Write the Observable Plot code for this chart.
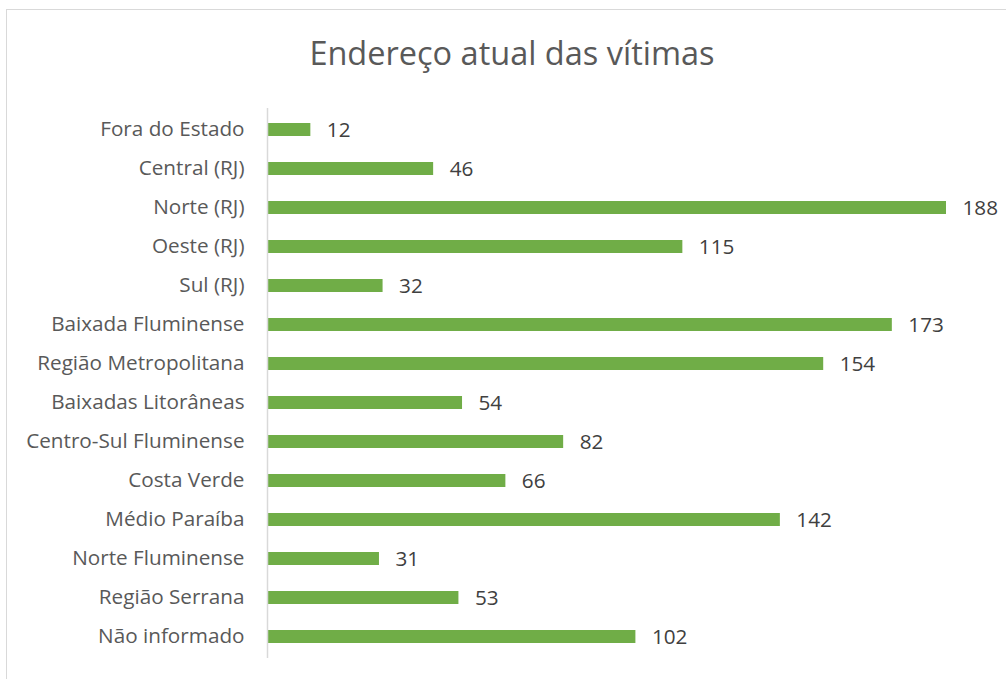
<!DOCTYPE html>
<html>
<head>
<meta charset="utf-8">
<script src="https://cdn.jsdelivr.net/npm/d3@7"></script>
<script src="https://cdn.jsdelivr.net/npm/@observablehq/plot@0.6"></script>
<style>
  html, body { margin: 0; padding: 0; background: #fff; }
  #wrap { position: relative; width: 1006px; height: 679px; overflow: hidden; font-family: "Open Sans", sans-serif; }
  #frame { position: absolute; left: 6px; top: 9px; width: 1200px; height: 800px; border-left: 1.5px solid #d9d9d9; border-top: 1.5px solid #d9d9d9; box-sizing: border-box; }
  #title { position: absolute; left: 9px; top: 0; width: 1006px; height: 100px; text-align: center; line-height: 106px; font-size: 32.5px; color: #595959; }
  #chart { position: absolute; left: 0; top: 100px; }
</style>
</head>
<body>
<div id="wrap">
  <div id="frame"></div>
  <div id="title">Endereço atual das vítimas</div>
  <div id="chart"></div>
</div>
<script>
const categories = [
  "Fora do Estado", "Central (RJ)", "Norte (RJ)", "Oeste (RJ)", "Sul (RJ)",
  "Baixada Fluminense", "Região Metropolitana", "Baixadas Litorâneas",
  "Centro-Sul Fluminense", "Costa Verde", "Médio Paraíba", "Norte Fluminense",
  "Região Serrana", "Não informado"
];
const values = [12, 46, 188, 115, 32, 173, 154, 54, 82, 66, 142, 31, 53, 102];

const data = categories.map((c, i) => ({category: c, value: values[i]}));

const chart = Plot.plot({
  width: 1006,
  height: 579,
  marginTop: 8,
  marginBottom: 21,
  marginLeft: 267,
  marginRight: 60,
  style: {fontFamily: "'Open Sans', sans-serif", fontSize: "20.7px", color: "#595959", background: "transparent"},
  x: {domain: [0, 188], axis: null},
  y: {domain: categories, paddingInner: 0.655, paddingOuter: 0.3275, label: null, tickSize: 0, tickPadding: 23},
  marks: [
    Plot.barX(data, {x: "value", y: "category", fill: "#70ad47"}),
    Plot.ruleX([0], {stroke: "#d9d9d9", strokeWidth: 1.5}),
    Plot.text(data, {x: "value", y: "category", text: d => String(d.value), textAnchor: "start", dx: 16, dy: 0, fill: "#404040", fontSize: 20.7}),
    Plot.axisY({tickSize: 0, tickPadding: 23, fontSize: 20.7, fill: "#595959", dy: -1})
  ]
});
document.getElementById("chart").appendChild(chart);
</script>
</body>
</html>
